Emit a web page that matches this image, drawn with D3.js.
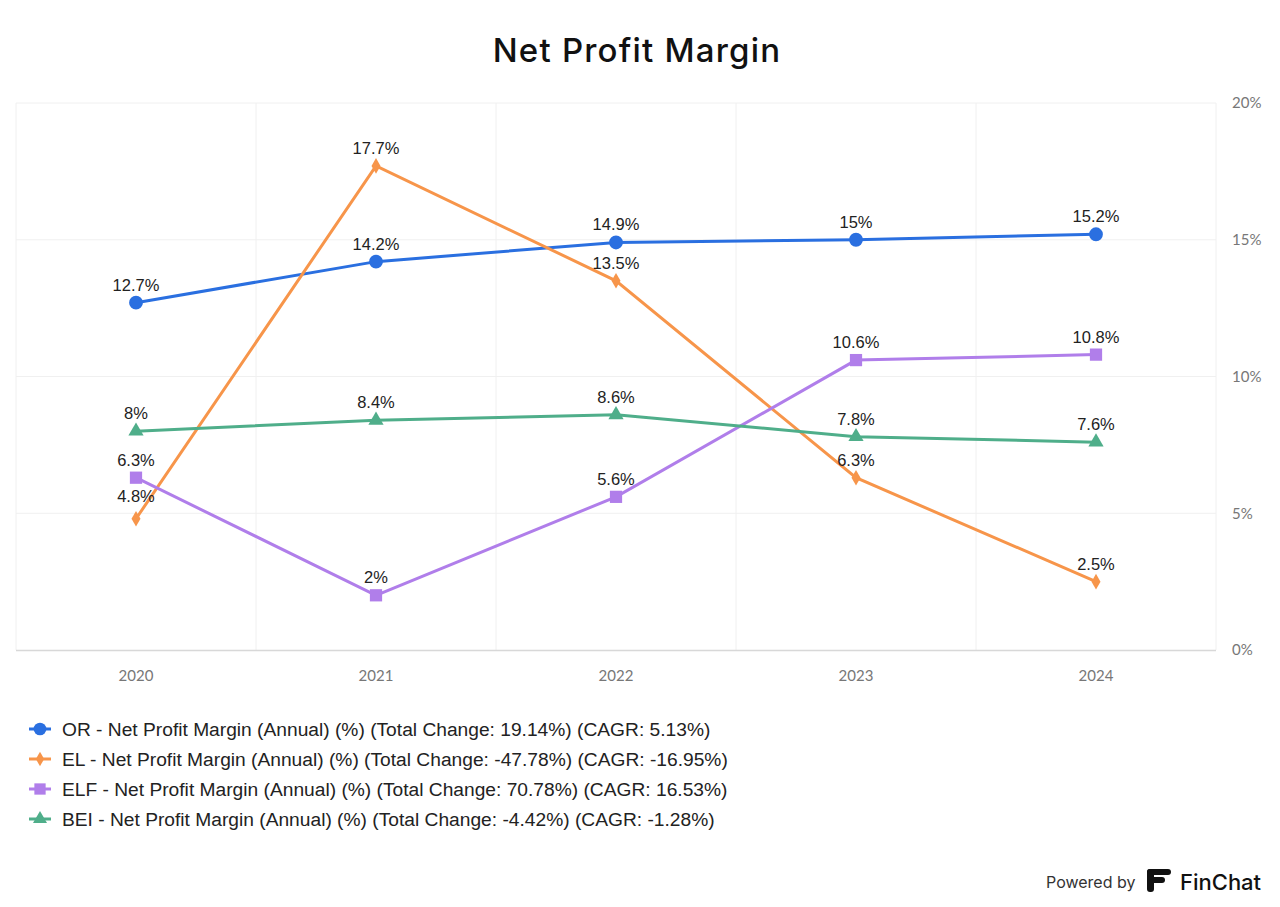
<!DOCTYPE html>
<html><head><meta charset="utf-8">
<script src="https://cdn.jsdelivr.net/npm/d3@7"></script>
<style>body{margin:0;background:#fff}svg{display:block}</style>
</head><body>
<svg id="c" width="1280" height="907"></svg>
<script>
const categories = ["2020","2021","2022","2023","2024"];
const orValues  = [12.7, 14.2, 14.9, 15.0, 15.2];
const elValues  = [4.8, 17.7, 13.5, 6.3, 2.5];
const elfValues = [6.3, 2.0, 5.6, 10.6, 10.8];
const beiValues = [8.0, 8.4, 8.6, 7.8, 7.6];
const yTicks = [0, 5, 10, 15, 20];
const seriesNames = ["OR","EL","ELF","BEI"];
const legendLabels = [
  "OR - Net Profit Margin (Annual) (%) (Total Change: 19.14%) (CAGR: 5.13%)",
  "EL - Net Profit Margin (Annual) (%) (Total Change: -47.78%) (CAGR: -16.95%)",
  "ELF - Net Profit Margin (Annual) (%) (Total Change: 70.78%) (CAGR: 16.53%)",
  "BEI - Net Profit Margin (Annual) (%) (Total Change: -4.42%) (CAGR: -1.28%)"
];
const series = [
  {name:"OR", values:orValues, color:"#2a6fe0", sym:d3.symbolCircle, size:150},
  {name:"EL", values:elValues, color:"#f7954a", sym:d3.symbolDiamond, size:70},
  {name:"ELF", values:elfValues, color:"#b07eea", sym:d3.symbolSquare, size:150},
  {name:"BEI", values:beiValues, color:"#4fae8a", sym:d3.symbolTriangle, size:100}
];

const svg = d3.select("#c");
const pLeft = 16, pRight = 1216, pTop = 103, pBottom = 650;
const x = d3.scaleBand().domain(categories).range([pLeft, pRight]);
const y = d3.scaleLinear().domain([0, 20]).range([pBottom, pTop]);

svg.append("text").attr("x", 637).attr("y", 62).attr("text-anchor","middle")
  .attr("font-family","Inter, sans-serif").attr("font-size", 33).attr("font-weight", 500)
  .attr("letter-spacing", 1.2).attr("fill","#111").text("Net Profit Margin");

// grid
const g = svg.append("g");
g.selectAll(".hg").data(yTicks.filter(t=>t>0)).join("line")
  .attr("x1", pLeft).attr("x2", pRight).attr("y1", d=>y(d)).attr("y2", d=>y(d))
  .attr("stroke","#f0f0f0").attr("stroke-width",1);
g.selectAll(".vg").data(categories).join("line")
  .attr("x1", d=>x(d)).attr("x2", d=>x(d)).attr("y1", pTop).attr("y2", pBottom)
  .attr("stroke","#f0f0f0").attr("stroke-width",1);
g.append("line").attr("x1", pRight).attr("x2", pRight).attr("y1", pTop).attr("y2", pBottom)
  .attr("stroke","#f0f0f0");
g.append("line").attr("x1", pLeft).attr("x2", pRight).attr("y1", pBottom+0.5).attr("y2", pBottom+0.5)
  .attr("stroke","#d8d8d8").attr("stroke-width",1.5);

// y axis labels
const yAxis = d3.axisRight(y).tickValues(yTicks).tickFormat(d=>d+"%").tickSize(0).tickPadding(16);
const ya = svg.append("g").attr("transform",`translate(${pRight},0)`).call(yAxis);
ya.select(".domain").remove();
ya.selectAll("text").attr("font-family","Lato, 'Open Sans', sans-serif").attr("font-size",15).attr("fill","#777");

// x axis labels
const xAxis = d3.axisBottom(x).tickSize(0).tickPadding(20);
const xa = svg.append("g").attr("transform",`translate(0,${pBottom})`).call(xAxis);
xa.select(".domain").remove();
xa.selectAll("text").attr("font-family","Lato, 'Open Sans', sans-serif").attr("font-size",15).attr("fill","#777");

const cx = d => x(d) + x.bandwidth()/2;
const line = d3.line().x(d=>cx(d.c)).y(d=>y(d.v));

series.forEach(s => {
  const pts = s.values.map((v,i)=>({c:categories[i], v}));
  svg.append("path").datum(pts).attr("d", line).attr("fill","none")
    .attr("stroke", s.color).attr("stroke-width", 3);
  svg.append("g").selectAll("path").data(pts).join("path")
    .attr("transform", d=>`translate(${cx(d.c)},${y(d.v)})`)
    .attr("d", d3.symbol().type(s.sym).size(s.size)).attr("fill", s.color);
});

// data labels
series.forEach(s => {
  svg.append("g").selectAll("text").data(s.values).join("text")
    .attr("x", (d,i)=>cx(categories[i]))
    .attr("y", (d,i)=>y(d) + (s.name==="EL" && i===0 ? -17 : -12))
    .attr("text-anchor","middle")
    .attr("font-family","'Liberation Sans', Arial, sans-serif").attr("font-size",16.5)
    .attr("fill","#222").text(d=>d3.format("~g")(d)+"%");
});

// legend
const lg = svg.append("g");
series.forEach((s,i) => {
  const ly = 729 + i*30;
  lg.append("line").attr("x1",29).attr("x2",51).attr("y1",ly).attr("y2",ly)
    .attr("stroke", s.color).attr("stroke-width",3);
  lg.append("path").attr("transform",`translate(40,${ly})`)
    .attr("d", d3.symbol().type(s.sym).size(s.size*0.85)).attr("fill", s.color);
  lg.append("text").attr("x",62).attr("y",ly+7)
    .attr("font-family","'Liberation Sans', Arial, sans-serif").attr("font-size",19.2)
    .attr("fill","#222").text(legendLabels[i]);
});

// footer
svg.append("text").attr("x",1046).attr("y",888).attr("font-family","Inter, sans-serif")
  .attr("font-size",16).attr("fill","#333").text("Powered by");
const logo = svg.append("g").attr("transform","translate(1147,869)");
logo.append("rect").attr("x",0).attr("y",0).attr("width",24).attr("height",6).attr("rx",3).attr("fill","#111");
logo.append("rect").attr("x",0).attr("y",8).attr("width",18).attr("height",6).attr("rx",3).attr("fill","#111");
logo.append("rect").attr("x",0).attr("y",0).attr("width",7).attr("height",23).attr("rx",3).attr("fill","#111");
svg.append("text").attr("x",1180).attr("y",890).attr("font-family","Inter, sans-serif")
  .attr("font-size",22).attr("font-weight",500).attr("fill","#111").text("FinChat");
</script>
</body></html>
